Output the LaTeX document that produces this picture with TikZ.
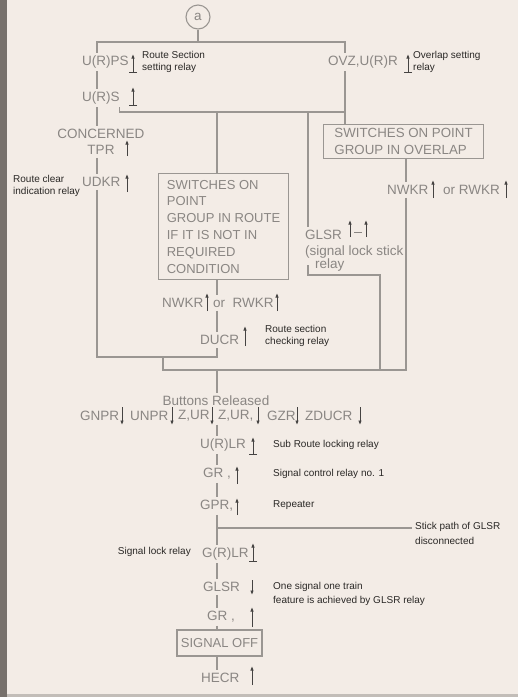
\documentclass[tikz,border=0pt]{standalone}
\usepackage{fontspec}
\setmainfont{Liberation Sans}
\usetikzlibrary{arrows.meta,positioning}
\definecolor{paper}{HTML}{F3ECE6}
\definecolor{ink}{HTML}{8A8683}
\definecolor{wire}{HTML}{9A9692}
\definecolor{note}{HTML}{2A2826}
\definecolor{frame}{HTML}{77716C}
\tikzset{
  relay/.style={font=\fontsize{13.5}{16}\selectfont,text=ink,inner xsep=0pt,inner ysep=3pt,anchor=west},
  remark/.style={font=\fontsize{10}{12}\selectfont,text=note,inner sep=0pt,anchor=west,align=left},
  group/.style={draw=wire,line width=1.1pt,font=\fontsize{13}{16.8}\selectfont,text=ink,align=left,anchor=north west},
  lead/.style={draw=wire,line width=1.1pt},
  pick/.style={draw=ink!50!black,line width=0.9pt,-{Latex[length=4.5pt,width=3.6pt]}},
  latch/.style={draw=ink!50!black,line width=0.9pt,{Bar[width=8pt]}-{Latex[length=4.5pt,width=3.6pt]}},
  drop/.style={pick}
}
\begin{document}
\begin{tikzpicture}[x=1pt,y=-1pt]
  \useasboundingbox (0,0) rectangle (518,697);
  \fill[paper] (0,0) rectangle (518,697);
  \fill[frame] (0,0) rectangle (7,697);
  \fill[paper!80!black] (7,694) rectangle (518,697);

  % junctions
  \coordinate (topl) at (97,42);
  \coordinate (topr) at (345,42);
  \coordinate (mid) at (345,112);
  \coordinate (jm) at (217,357);
  \coordinate (jg) at (308,275);
  \coordinate (bl) at (163,370);
  \coordinate (bg) at (380,370);
  \coordinate (br) at (406,370);
  \coordinate (stick) at (412,528);

  % relays and groups
  \node[circle,draw=wire,line width=1.1pt,minimum size=24pt,inner sep=0pt,text=ink,font=\fontsize{13.5}{16}\selectfont] (a) at (198,17) {a};
  \node[relay] (urps) at (82,62) {U(R)PS};
  \node[relay] (urs) at (82,98) {U(R)S};
  \node[relay,anchor=center,align=center] (tpr) at (101,142) {CONCERNED\\TPR};
  \node[relay] (udkr) at (82,182) {UDKR};
  \node[relay] (ovz) at (328,62) {OVZ,U(R)R};
  \node[group,minimum width=160pt,minimum height=34pt,inner xsep=10pt,inner ysep=0pt,font=\fontsize{13.3}{16.5}\selectfont] (ovbox) at (323,124) {SWITCHES ON POINT\\GROUP IN OVERLAP};
  \node[relay] (nwo) at (387,190) {NWKR};
  \node[relay] (rwo) at (443,190) {or RWKR};
  \node[group,minimum width=130pt,minimum height=106pt,inner xsep=7pt,inner ysep=0pt] (rtbox) at (158,173) {SWITCHES ON\\POINT\\GROUP IN ROUTE\\IF IT IS NOT IN\\REQUIRED\\CONDITION};
  \node[relay] (glsr) at (305,235) {GLSR};
  \node[relay] (glnote) at (305,252) {(signal lock stick};
  \node[relay] (glrel) at (315,265) {relay};
  \node[relay] (nwr) at (162,303) {NWKR};
  \node[relay] (rwr) at (213,303) {or\ \ RWKR};
  \node[relay] (ducr) at (200,340) {DUCR};
  \node[relay,anchor=center] (btn) at (216,401) {Buttons Released};
  \foreach \n/\t/\x/\ax in {1/GNPR/80/122, 2/UNPR/130/172, 3/{Z,UR}/178/212, 4/{Z,UR,}/218/258, 5/GZR/267/297, 6/ZDUCR/305/360} {
    \node[relay] (b\n) at (\x,416) {\t};
    \draw[drop] (\ax,407) -- (\ax,425);
  }
  \node[relay] (urlr) at (200,445) {U(R)LR};
  \node[relay] (gr1) at (203,474) {GR ,};
  \node[relay] (gpr) at (200,506) {GPR,};
  \node[relay] (glr) at (202,554) {G(R)LR};
  \node[relay] (glsr2) at (203,587) {GLSR};
  \node[relay] (gr2) at (207,617) {GR ,};
  \node[group,anchor=center,minimum width=85pt,minimum height=26pt,inner xsep=2pt] (off) at (219.5,643) {SIGNAL OFF};
  \node[relay] (hecr) at (201,678) {HECR};

  % remarks
  \node[remark] (n1) at (142,62) {Route Section\\setting relay};
  \node[remark] (n2) at (413,62) {Overlap setting\\relay};
  \node[remark] (n3) at (13,186) {Route clear\\indication relay};
  \node[remark] (n4) at (265,336) {Route section\\checking relay};
  \node[remark] (n5) at (273,445) {Sub Route locking relay};
  \node[remark] (n6) at (273,474) {Signal control relay no. 1};
  \node[remark] (n7) at (273,505) {Repeater};
  \node[remark,font=\fontsize{10}{15}\selectfont] (n8) at (415,533) {Stick path of GLSR\\disconnected};
  \node[remark,anchor=east] (n9) at (191,552) {Signal lock relay};
  \node[remark,font=\fontsize{10}{14}\selectfont] (n10) at (273,594) {One signal one train\\feature is achieved by GLSR relay};

  % connections
  \draw[lead] (a) -- (a |- topl);
  \draw[lead] (urps.north -| topl) -- (topl) -- (topr) -- (ovz.north -| topr);
  \draw[lead] (urps.south -| topl) -- (urs.north -| topl);
  \draw[lead] (urs.south -| topl) -- (tpr.north -| topl);
  \draw[lead] (tpr.south -| topl) -- (udkr.north -| topl);
  \draw[lead] (udkr.south -| topl) |- (jm) -- (ducr.south -| jm);
  \draw[lead] (urs.south east) |- (mid);
  \draw[lead] (ovz.south -| mid) -- (ovbox.north -| mid);
  \draw[lead] (jm |- mid) -- (rtbox.north -| jm);
  \draw[lead] (jg |- mid) -- (glsr.north -| jg);
  \draw[lead] (jg |- glrel.west) -- (jg) -| (bg);
  \draw[lead] (rtbox.south -| jm) -- (nwr.north -| jm);
  \draw[lead] (nwr.south -| jm) -- (ducr.north -| jm);
  \draw[lead] (ovbox.south -| br) -- (nwo.north -| br);
  \draw[lead] (nwo.south -| br) -- (br) -- (bl) -- (bl |- jm);
  \draw[lead] (jm |- bl) -- (btn.north -| jm);
  \draw[lead] (b3.south -| jm) -- (urlr.north -| jm);
  \foreach \u/\v in {urlr/gr1, gr1/gpr, gpr/glr, glr/glsr2, glsr2/gr2, gr2/off, off/hecr}
    \draw[lead] (\u.south -| jm) -- (\v.north -| jm);
  \draw[lead] (stick -| jm) -- (stick);

  % relay states
  \foreach \x/\ya/\yb in {127/156/140, 127/192/174, 433/198/180, 506/198/180, 350/237/220, 366/237/220, 207/311/293, 277/311/293, 245/346/326, 237/484/466, 237/515/498, 252/627/607, 252/685/666}
    \draw[pick] (\x,\ya) -- (\x,\yb);
  \foreach \x/\ya/\yb in {133/73/54, 133/106/87, 408/73/54, 253/455/437, 253/562/543}
    \draw[latch] (\x,\ya) -- (\x,\yb);
  \draw[drop] (252,580) -- (252,595);
  \draw[ink,line width=0.9pt] (354,232) -- (362,232);
\end{tikzpicture}
\end{document}
